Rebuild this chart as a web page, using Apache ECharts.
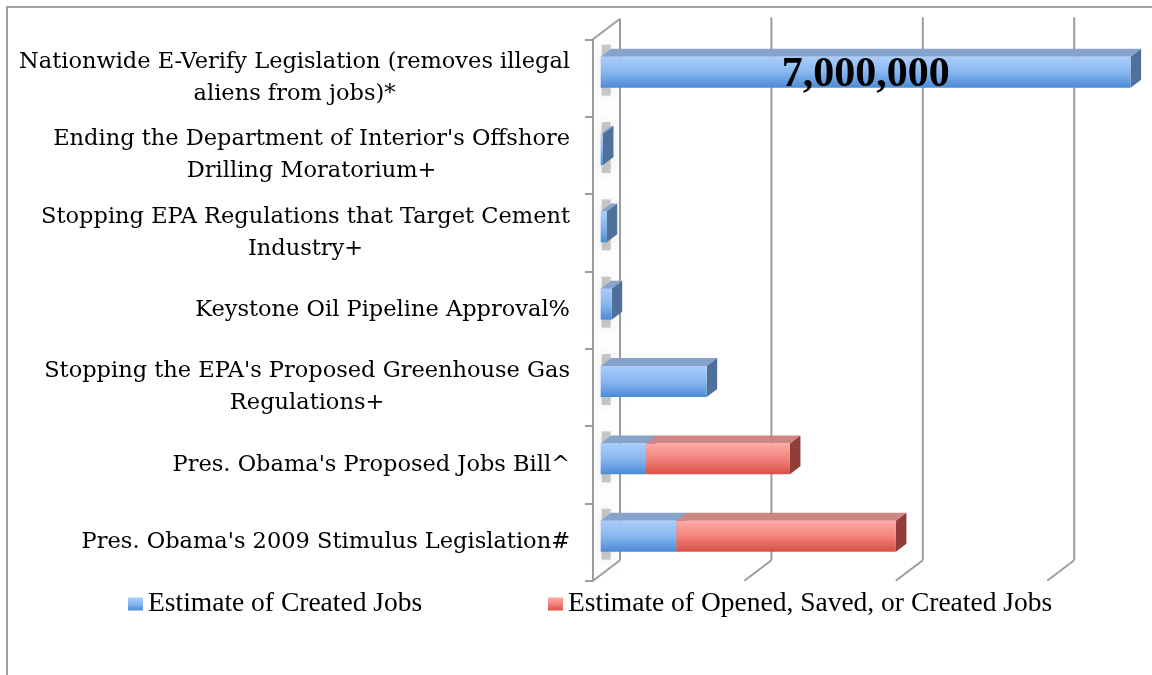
<!DOCTYPE html>
<html>
<head>
<meta charset="utf-8">
<script src="https://cdn.jsdelivr.net/npm/echarts@6/dist/echarts.min.js"></script>
<style>
html,body{margin:0;padding:0;background:#fff;}
#chart{width:1152px;height:675px;}
</style>
</head>
<body>
<div id="chart"></div>
<script>
const categories = [
  "Nationwide E-Verify Legislation (removes illegal\naliens from jobs)*",
  "Ending the Department of Interior's Offshore\nDrilling Moratorium+",
  "Stopping EPA Regulations that Target Cement\nIndustry+",
  "Keystone Oil Pipeline Approval%",
  "Stopping the EPA's Proposed Greenhouse Gas\nRegulations+",
  "Pres. Obama's Proposed Jobs Bill^",
  "Pres. Obama's 2009 Stimulus Legislation#"
];
const createdJobs = [7000000, 30000, 80000, 145000, 1400000, 600000, 1000000];
const openedSavedJobs = [0, 0, 0, 0, 0, 1900000, 2900000];
const gridTicks = [0, 2000000, 4000000, 6000000];
const axisMax = 7000000;
const seriesNames = ["Estimate of Created Jobs", "Estimate of Opened, Saved, or Created Jobs"];

const chart = echarts.init(document.getElementById('chart'));

const PX_PER_M = 75.7;
const LINE = '#9d9d9d';
// 3D offsets
const WALL_DX = 27, WALL_DY = -20.5;
const FX = 7.7, FY = -5.8, DX = 10.5, DY = -8;

const blueStyle = {
  front: new echarts.graphic.LinearGradient(0, 0, 0, 1, [
    {offset: 0, color: '#aacefb'}, {offset: 0.5, color: '#88b6f0'}, {offset: 1, color: '#4a8bd6'}]),
  top: '#86a3cc', side: '#50709c'
};
const redStyle = {
  front: new echarts.graphic.LinearGradient(0, 0, 0, 1, [
    {offset: 0, color: '#ffaaa6'}, {offset: 0.5, color: '#f2837d'}, {offset: 1, color: '#d94f46'}]),
  top: '#cd8683', side: '#8f3e39'
};

const blueData = createdJobs.map((v, i) => [0, v, i]);
const redData = openedSavedJobs.map((v, i) => [createdJobs[i], createdJobs[i] + v, i]);
const maxCreated = Math.max(...createdJobs);

function makeRender(st, withShadow, withLabel) {
  return function (params, api) {
    const s = api.value(0), e = api.value(1), c = api.value(2);
    if (!(e > s)) return;
    const p0 = api.coord([s, c]);
    const p1 = api.coord([e, c]);
    const band = api.size([0, 1])[1];
    const h = band * 0.4;
    const x0 = p0[0] + FX, x1 = p1[0] + FX;
    const yc = p0[1] + FY;
    const yt = yc - h / 2, yb = yc + h / 2;
    const children = [];
    if (withShadow) {
      children.push({
        type: 'rect',
        shape: {x: x0 + 1, y: yt - 12, width: 9, height: h + 20},
        style: {fill: 'rgba(0,0,0,0.2)', shadowBlur: 14, shadowColor: 'rgba(0,0,0,0.5)'}
      });
    }
    children.push({
      type: 'polygon',
      shape: {points: [[x0, yt], [x1, yt], [x1 + DX, yt + DY], [x0 + DX, yt + DY]]},
      style: {fill: st.top}
    });
    children.push({
      type: 'polygon',
      shape: {points: [[x1, yt], [x1 + DX, yt + DY], [x1 + DX, yb + DY], [x1, yb]]},
      style: {fill: st.side}
    });
    children.push({
      type: 'rect',
      shape: {x: x0, y: yt, width: Math.max(x1 - x0, 0.5), height: h},
      style: {fill: st.front}
    });
    if (withLabel && e - s === maxCreated) {
      children.push({
        type: 'text',
        style: {
          text: (e - s).toLocaleString('en-US'),
          x: (x0 + x1) / 2, y: yc + 3,
          align: 'center', verticalAlign: 'middle',
          font: 'bold 42px "Liberation Serif"', fill: '#000'
        }
      });
    }
    return {type: 'group', children};
  };
}

function frameRender(params, api) {
  const v = api.value(0);
  const last = categories.length - 1;
  const band = api.size([0, 1])[1];
  const pb = api.coord([v, last]);
  const pt = api.coord([v, 0]);
  const fx = pb[0], fyB = pb[1] + band / 2, fyT = pt[1] - band / 2;
  const ls = {stroke: LINE, lineWidth: 2};
  const children = [{
    type: 'line',
    shape: {x1: fx, y1: fyB, x2: fx + WALL_DX, y2: fyB + WALL_DY},
    style: ls
  }, {
    type: 'line',
    shape: {x1: fx + WALL_DX, y1: fyT + WALL_DY - (v === 0 ? 0 : 1.5), x2: fx + WALL_DX, y2: fyB + WALL_DY},
    style: ls
  }];
  if (v === 0) {
    children.push({
      type: 'line',
      shape: {x1: fx, y1: fyT, x2: fx + WALL_DX, y2: fyT + WALL_DY},
      style: ls
    });
  }
  return {type: 'group', children};
}

const gridW = axisMax / 1e6 * PX_PER_M;
const gTop = 39.3, gH = 541.4, gLeft = 593;

const labelFont = 'DejaVu Serif';
const legendText = {fontFamily: 'Liberation Serif', fontSize: 27.5, color: '#000', lineHeight: 28};

chart.setOption({
  backgroundColor: '#fff',
  animation: false,
  graphic: [{
    type: 'rect', silent: true, z: -10,
    shape: {x: 7, y: 7, width: 1300, height: 800},
    style: {fill: null, stroke: '#a0a0a0', lineWidth: 2}
  }],
  legend: [{
    data: [seriesNames[0]], left: 128, top: 590, padding: 0,
    icon: 'rect', itemWidth: 15, itemHeight: 13, itemGap: 5,
    textStyle: legendText, selectedMode: false
  }, {
    data: [seriesNames[1]], left: 548, top: 590, padding: 0,
    icon: 'rect', itemWidth: 15, itemHeight: 13, itemGap: 5,
    textStyle: legendText, selectedMode: false
  }],
  grid: [
    {left: gLeft, top: gTop, width: gridW, height: gH, containLabel: false}
  ],
  xAxis: [
    {type: 'value', min: 0, max: axisMax, interval: 2000000,
     axisLine: {show: false}, axisTick: {show: false}, axisLabel: {show: false}, splitLine: {show: false}}
  ],
  yAxis: [
    {type: 'category', data: categories, inverse: true,
     axisLine: {show: true, onZero: false, lineStyle: {color: LINE, width: 2}},
     axisTick: {show: true, length: 8, lineStyle: {color: LINE, width: 2}},
     splitLine: {show: false},
     axisLabel: {
       margin: 23, color: '#000',
       formatter: (v) => v.split('\n').map(l => '{c|' + l + '}').join('\n'),
       rich: {c: {align: 'center', fontFamily: labelFont, fontSize: 22.5, lineHeight: 32, color: '#000'}}
     }}
  ],
  series: [
    {type: 'custom', name: 'frame', z: 1, silent: true, clip: false,
     renderItem: frameRender, data: gridTicks.map(v => [v]), encode: {x: 0}},
    {type: 'custom', name: seriesNames[0], z: 3, clip: false,
     itemStyle: {color: blueStyle.front},
     renderItem: makeRender(blueStyle, true, true), data: blueData, encode: {x: [0, 1], y: 2}},
    {type: 'custom', name: seriesNames[1], z: 4, clip: false,
     itemStyle: {color: redStyle.front},
     renderItem: makeRender(redStyle, false, false), data: redData, encode: {x: [0, 1], y: 2}}
  ]
});
</script>
</body>
</html>
